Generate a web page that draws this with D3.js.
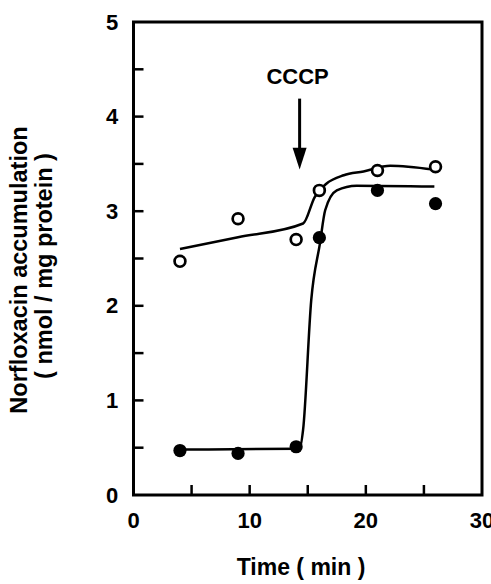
<!DOCTYPE html>
<html>
<head>
<meta charset="utf-8">
<script src="https://cdn.jsdelivr.net/npm/d3@7"></script>
<style>
  body { margin: 0; background: #fff; }
  text { font-family: "Liberation Sans", Arial, sans-serif; font-weight: bold; fill: #000; }
</style>
</head>
<body>
<svg width="491" height="584"></svg>
<script>
// measured points
var times = [4, 9, 14, 16, 21, 26];
var filled = [0.47, 0.44, 0.51, 2.72, 3.22, 3.08];
var open = [2.47, 2.92, 2.70, 3.22, 3.43, 3.47];

// hand drawn fitted curves
var openFitX = [4.0, 9.0, 14.6, 15.6, 16.6, 18.1, 19.8, 22.1, 25.8];
var openFitY = [2.60, 2.725, 2.87, 3.15, 3.29, 3.38, 3.42, 3.48, 3.44];
var filledFitX = [4.0, 14.3, 14.6, 15.3, 16.05, 16.5, 17.5, 19.2, 25.9];
var filledFitY = [0.48, 0.49, 0.69, 2.06, 2.66, 3.01, 3.22, 3.27, 3.26];

var xTicks = [0, 10, 20, 30];
var xMinor = [5, 10, 15, 20, 25];
var yTicks = [0, 1, 2, 3, 4, 5];
var yMinor = [0.5, 1, 1.5, 2, 2.5, 3, 3.5, 4, 4.5];

var arrowX = 14.3;
var arrowTop = 4.19, arrowBase = 3.67, arrowTip = 3.44;

var svg = d3.select("svg");
var x = d3.scaleLinear().domain([0, 30]).range([133.5, 482]);
var y = d3.scaleLinear().domain([0, 5]).range([495, 22]);

// frame
svg.append("rect")
  .attr("x", x(0)).attr("y", y(5))
  .attr("width", x(30) - x(0)).attr("height", y(0) - y(5))
  .attr("fill", "none").attr("stroke", "#000").attr("stroke-width", 3);

// inward ticks
svg.selectAll("line.yt").data(yMinor).enter().append("line")
  .attr("x1", x(0)).attr("x2", x(0) + 10)
  .attr("y1", function(d){ return y(d); })
  .attr("y2", function(d){ return y(d); })
  .attr("stroke", "#000").attr("stroke-width", 2.5);
svg.selectAll("line.xt").data(xMinor).enter().append("line")
  .attr("x1", function(d){ return x(d); })
  .attr("x2", function(d){ return x(d); })
  .attr("y1", y(0)).attr("y2", y(0) - 10)
  .attr("stroke", "#000").attr("stroke-width", 2.5);

// tick labels
svg.selectAll("text.yl").data(yTicks).enter().append("text")
  .attr("x", 112)
  .attr("y", function(d){ return y(d) + 7.5; })
  .attr("text-anchor", "middle")
  .style("font-size", "22px")
  .text(function(d){ return d; });
svg.selectAll("text.xl").data(xTicks).enter().append("text")
  .attr("x", function(d){ return x(d); })
  .attr("y", 528)
  .attr("text-anchor", "middle")
  .style("font-size", "22px")
  .text(function(d){ return d; });

// axis titles
svg.append("text")
  .attr("x", 301).attr("y", 575)
  .attr("text-anchor", "middle")
  .style("font-size", "23px")
  .text("Time ( min )");
svg.append("text")
  .attr("transform", "translate(27,270) rotate(-90)")
  .attr("text-anchor", "middle")
  .style("font-size", "23.5px")
  .text("Norfloxacin accumulation");
svg.append("text")
  .attr("transform", "translate(52,266) rotate(-90)")
  .attr("text-anchor", "middle")
  .style("font-size", "23.5px")
  .text("( nmol / mg protein )");

// fitted curves
var line = d3.line()
  .x(function(d){ return x(d[0]); })
  .y(function(d){ return y(d[1]); })
  .curve(d3.curveMonotoneX);
svg.append("path")
  .attr("d", line(d3.zip(openFitX, openFitY)))
  .attr("fill", "none").attr("stroke", "#000").attr("stroke-width", 2.5);
svg.append("path")
  .attr("d", line(d3.zip(filledFitX, filledFitY)))
  .attr("fill", "none").attr("stroke", "#000").attr("stroke-width", 2.5);

// markers
svg.selectAll("circle.open").data(d3.zip(times, open)).enter().append("circle")
  .attr("cx", function(d){ return x(d[0]); })
  .attr("cy", function(d){ return y(d[1]); })
  .attr("r", 5.4)
  .attr("fill", "#fff").attr("stroke", "#000").attr("stroke-width", 2.7);
svg.selectAll("circle.filled").data(d3.zip(times, filled)).enter().append("circle")
  .attr("cx", function(d){ return x(d[0]); })
  .attr("cy", function(d){ return y(d[1]); })
  .attr("r", 6.6)
  .attr("fill", "#000");

// CCCP arrow
svg.append("text")
  .attr("x", x(arrowX) - 2).attr("y", 84)
  .attr("text-anchor", "middle")
  .style("font-size", "22px")
  .text("CCCP");
svg.append("line")
  .attr("x1", x(arrowX)).attr("x2", x(arrowX))
  .attr("y1", y(arrowTop)).attr("y2", y(arrowBase) + 2)
  .attr("stroke", "#000").attr("stroke-width", 3);
svg.append("path")
  .attr("d", "M" + (x(arrowX) - 7) + "," + y(arrowBase) +
             "L" + (x(arrowX) + 7) + "," + y(arrowBase) +
             "L" + x(arrowX) + "," + y(arrowTip) + "Z")
  .attr("fill", "#000");
</script>
</body>
</html>
